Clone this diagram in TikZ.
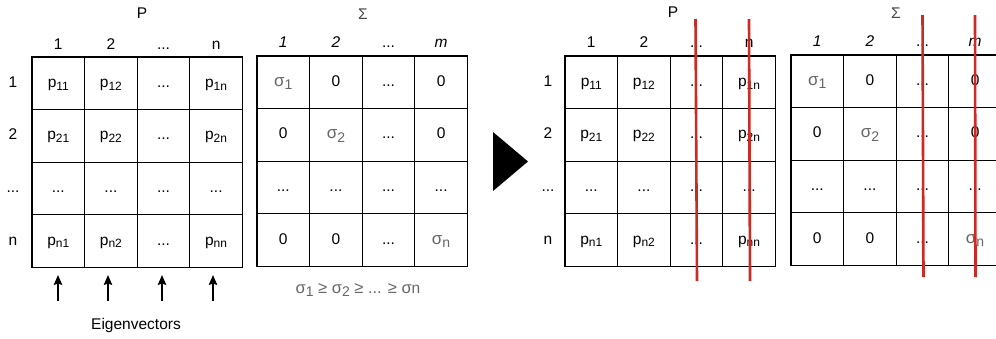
\documentclass[tikz,border=0pt]{standalone}
\usepackage{fontspec}
\setmainfont{Liberation Sans}
\usetikzlibrary{arrows.meta}
\definecolor{redline}{RGB}{204,42,34}
\definecolor{sgray}{RGB}{102,102,102}
\definecolor{tgray}{RGB}{70,70,70}
\newcommand{\psub}[1]{p\raisebox{-0.35ex}{\fontsize{12}{13}\selectfont #1}}
\newcommand{\ssub}[1]{{\color{sgray}\fontsize{17}{19}\selectfont σ\raisebox{-0.35ex}{\fontsize{14}{15}\selectfont #1}}}
\newcommand{\cellrow}[7]{%
  \node[cell] (#1-1) at ({#2+26.3},#3) {#4};
  \node[cell] (#1-2) at ({#2+78.9},#3) {#5};
  \node[cell] (#1-3) at ({#2+131.5},#3) {#6};
  \node[cell] (#1-4) at ({#2+184.1},#3) {#7};}
\newcommand{\headrow}[7]{%
  \node[lbl] (#1-1) at ({#2+26.3},#3) {#4};
  \node[lbl] (#1-2) at ({#2+78.9},#3) {#5};
  \node[lbl] (#1-3) at ({#2+131.5},#3) {#6};
  \node[lbl] (#1-4) at ({#2+184.1},#3) {#7};}
\begin{document}
\begin{tikzpicture}[x=1pt,y=-1pt,
  cell/.style={draw=black, line width=1.3pt, minimum width=52.6pt, minimum height=52.6pt, inner sep=0pt, text height=11pt, text depth=3pt, font=\fontsize{15.5}{17}\selectfont},
  lbl/.style={inner sep=0pt, text height=11pt, text depth=3pt, font=\fontsize{15.5}{17}\selectfont},
  cutline/.style={draw=redline, line width=2.6pt},
  eigarrow/.style={draw=black, line width=1.3pt, -{Stealth[length=10pt,width=8.5pt,inset=1.5pt]}}]
\useasboundingbox (0,0) rectangle (996,338);
\clip (0,0) rectangle (996,338);

% ---------- left P ----------
\node[lbl] (lpT) at (142,14) {P};
\headrow{lph}{32}{45}{1}{2}{...}{n}
\node[lbl] (lpr1) at (13,83.3) {1};
\node[lbl] (lpr2) at (13,135.9) {2};
\node[lbl] (lpr3) at (13,188.5) {...};
\node[lbl] (lpr4) at (13,241.1) {n};
\cellrow{lp1}{32}{83.3}{\psub{11}}{\psub{12}}{...}{\psub{1n}}
\cellrow{lp2}{32}{135.9}{\psub{21}}{\psub{22}}{...}{\psub{2n}}
\cellrow{lp3}{32}{188.5}{...}{...}{...}{...}
\cellrow{lp4}{32}{241.1}{\psub{n1}}{\psub{n2}}{...}{\psub{nn}}

\foreach \x [count=\k] in {58,108,162,213} {
  \coordinate (es\k) at (\x,301);
  \coordinate (ee\k) at (\x,275);
  \draw[eigarrow] (es\k) -- (ee\k);
}
\node[lbl] (eig) at (136,325) {Eigenvectors};

% ---------- left Sigma ----------
\node[lbl, text=tgray] (lsT) at (363,15) {Σ};
\headrow{lsh}{257}{43}{\textit{1}}{\textit{2}}{...}{\textit{m}}
\cellrow{ls1}{257}{82.3}{\ssub{1}}{0}{...}{0}
\cellrow{ls2}{257}{134.9}{0}{\ssub{2}}{...}{0}
\cellrow{ls3}{257}{187.5}{...}{...}{...}{...}
\cellrow{ls4}{257}{240.1}{0}{0}{...}{\ssub{n}}
\node[lbl, text=sgray] (order) at (358,289) {\fontsize{16.5}{18}\selectfont σ\raisebox{-0.35ex}{\fontsize{14}{15}\selectfont 1} ≥ σ\raisebox{-0.35ex}{\fontsize{14}{15}\selectfont 2} ≥ ... ≥ σ{\fontsize{15.5}{17}\selectfont n}};

% ---------- big arrow ----------
\fill[black] (493,132) -- (528,161.5) -- (493,191) -- cycle;

% ---------- right P ----------
\node[lbl] (rpT) at (673,13) {P};
\headrow{rph}{565}{43}{1}{2}{...}{n}
\node[lbl] (rpr1) at (548,82.3) {1};
\node[lbl] (rpr2) at (548,134.9) {2};
\node[lbl] (rpr3) at (548,187.5) {...};
\node[lbl] (rpr4) at (548,240.1) {n};
\cellrow{rp1}{565}{82.3}{\psub{11}}{\psub{12}}{...}{\psub{1n}}
\cellrow{rp2}{565}{134.9}{\psub{21}}{\psub{22}}{...}{\psub{2n}}
\cellrow{rp3}{565}{187.5}{...}{...}{...}{...}
\cellrow{rp4}{565}{240.1}{\psub{n1}}{\psub{n2}}{...}{\psub{nn}}

% ---------- right Sigma ----------
\node[lbl, text=tgray] (rsT) at (896,14) {Σ};
\headrow{rsh}{791}{42}{\textit{1}}{\textit{2}}{...}{\textit{m}}
\cellrow{rs1}{791}{81.3}{\ssub{1}}{0}{...}{0}
\cellrow{rs2}{791}{133.9}{0}{\ssub{2}}{...}{0}
\cellrow{rs3}{791}{186.5}{...}{...}{...}{...}
\cellrow{rs4}{791}{239.1}{0}{0}{...}{\ssub{n}}

% ---------- red cut lines ----------
\draw[cutline] (695.5,19) -- (697,281);
\draw[cutline] (749,19) -- (750,281);
\draw[cutline] (922.5,15) -- (923.5,277);
\draw[cutline] (975,15) -- (975.5,277);
\end{tikzpicture}
\end{document}
